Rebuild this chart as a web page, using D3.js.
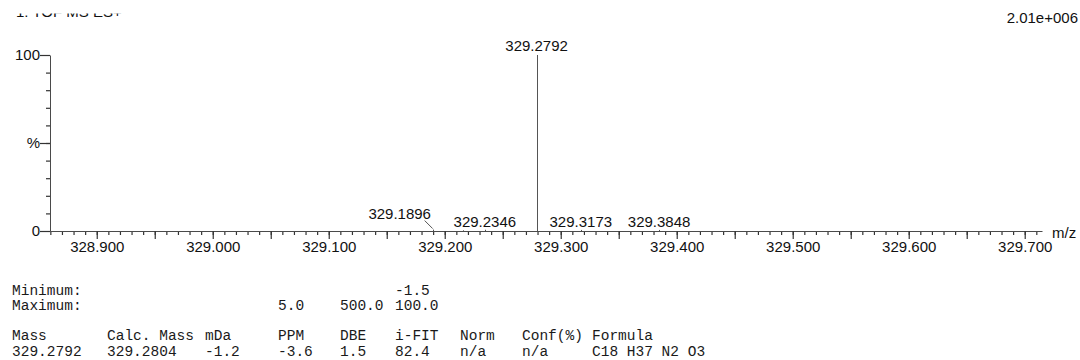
<!DOCTYPE html>
<html>
<head>
<meta charset="utf-8">
<script src="https://cdn.jsdelivr.net/npm/d3@7"></script>
<style>
  body { margin: 0; background: #fff; }
  svg text { font-family: "Liberation Sans", Arial, sans-serif; fill: #111; }
  .tbl text { font-family: "Liberation Mono", monospace; font-size: 14.5px; fill: #1a1a1a; }
</style>
</head>
<body>
<script>
// spectrum peaks (m/z, relative intensity %, label)
const peakMz = [329.1896, 329.2160, 329.2346, 329.2792, 329.3173, 329.3848];
const peakInt = [0.8, 0.4, 0.7, 100, 0.6, 0.6];
const peakLabel = ["329.1896", "", "329.2346", "329.2792", "329.3173", "329.3848"];

const yTickVals = [0, 50, 100];
const yTickText = ["0", "%", "100"];

const title = "1: TOF MS ES+";
const maxIntensity = "2.01e+006";

// elemental composition table
const limitRows = [
  ["Minimum:", "", "", "", "-1.5"],
  ["Maximum:", "", "5.0", "500.0", "100.0"]
];
const tableHead = ["Mass", "Calc. Mass", "mDa", "PPM", "DBE", "i-FIT", "Norm", "Conf(%)", "Formula"];
const tableRow = ["329.2792", "329.2804", "-1.2", "-3.6", "1.5", "82.4", "n/a", "n/a", "C18 H37 N2 O3"];

const width = 1080, height = 360;

const svg = d3.select("body").append("svg")
  .attr("width", width)
  .attr("height", height);

const x = d3.scaleLinear().domain([328.8597, 329.7149]).range([50, 1042]);
const y = d3.scaleLinear().domain([0, 100]).range([231, 55]);

// title is cut off at the top of the picture
svg.append("clipPath").attr("id", "topcut")
  .append("rect").attr("x", 0).attr("y", 13.5).attr("width", width).attr("height", 40);
svg.append("text")
  .attr("clip-path", "url(#topcut)")
  .attr("x", 16).attr("y", 16.5)
  .style("font-size", "15px")
  .text(title);

svg.append("text")
  .attr("x", 1078).attr("y", 23)
  .attr("text-anchor", "end")
  .style("font-size", "15px")
  .text(maxIntensity);

// x axis ticks: minor every 0.01, major every 0.05, label every 0.1
const hundredths = d3.range(32886, 32972);
const minorX = hundredths.map(i => i / 100);
const majorX = hundredths.filter(i => i % 5 === 0).map(i => i / 100);

const gxMinor = svg.append("g")
  .attr("transform", `translate(0,${y(0)})`)
  .call(d3.axisBottom(x).tickValues(minorX).tickSize(4).tickFormat(() => ""));
gxMinor.select(".domain").remove();

const gx = svg.append("g")
  .attr("transform", `translate(0,${y(0)})`)
  .call(d3.axisBottom(x).tickValues(majorX).tickSize(8).tickSizeOuter(0).tickPadding(2)
    .tickFormat(d => Math.round(d * 100) % 10 === 0 ? d3.format(".3f")(d) : ""));
gx.selectAll("text").style("font-size", "15px").attr("fill", "#111");

// y axis
const gyMinor = svg.append("g")
  .attr("transform", `translate(${x.range()[0]},0)`)
  .call(d3.axisLeft(y).tickValues(d3.range(10, 100, 10)).tickSize(4).tickFormat(() => ""));
gyMinor.select(".domain").remove();

const gy = svg.append("g")
  .attr("transform", `translate(${x.range()[0]},0)`)
  .call(d3.axisLeft(y).tickValues(yTickVals).tickSize(10).tickSizeOuter(0).tickPadding(0)
    .tickFormat((d, i) => yTickText[i]));
gy.selectAll("text").style("font-size", "15px").attr("fill", "#111");

svg.selectAll(".domain").attr("stroke", "#4a4a4a");
svg.selectAll(".tick line").attr("stroke", "#333").attr("stroke-width", 1.2);

svg.append("text")
  .attr("x", 1052).attr("y", 238)
  .style("font-size", "15px")
  .text("m/z");

// peaks
const peaks = peakMz.map((m, i) => ({ mz: m, v: peakInt[i], label: peakLabel[i] }));

svg.append("g").selectAll("line")
  .data(peaks)
  .join("line")
    .attr("x1", d => Math.round(x(d.mz)) + 0.5)
    .attr("x2", d => Math.round(x(d.mz)) + 0.5)
    .attr("y1", y(0))
    .attr("y2", d => y(d.v))
    .attr("stroke", "#555");

// labels; the crowded one is pushed aside with a leader line
const shifted = { "329.1896": [-33, -11] };
const lab = svg.append("g");
peaks.filter(d => d.label).forEach(d => {
  const px = x(d.mz), py = y(d.v);
  const s = shifted[d.label];
  if (s) {
    lab.append("line")
      .attr("x1", px).attr("y1", py - 1)
      .attr("x2", px - 8).attr("y2", py - 9)
      .attr("stroke", "#555");
    lab.append("text")
      .attr("x", px + s[0]).attr("y", py + s[1])
      .attr("text-anchor", "middle")
      .style("font-size", "15px")
      .text(d.label);
  } else {
    lab.append("text")
      .attr("x", px).attr("y", py - (d.v > 50 ? 4 : 2.5))
      .attr("text-anchor", "middle")
      .style("font-size", "15px")
      .text(d.label);
  }
});

// table under the chart
const colX = [12, 107, 205, 278, 340, 395, 460, 522, 592];
const tbl = svg.append("g").attr("class", "tbl");

limitRows.forEach((row, r) => {
  tbl.append("g").selectAll("text")
    .data(row)
    .join("text")
      .attr("x", (d, i) => i === 0 ? colX[0] : colX[i + 1])
      .attr("y", 295 + r * 15)
      .text(d => d);
});

tbl.append("g").selectAll("text")
  .data(tableHead)
  .join("text")
    .attr("x", (d, i) => colX[i])
    .attr("y", 340)
    .text(d => d);

tbl.append("g").selectAll("text")
  .data(tableRow)
  .join("text")
    .attr("x", (d, i) => colX[i])
    .attr("y", 356)
    .text(d => d);
</script>
</body>
</html>
